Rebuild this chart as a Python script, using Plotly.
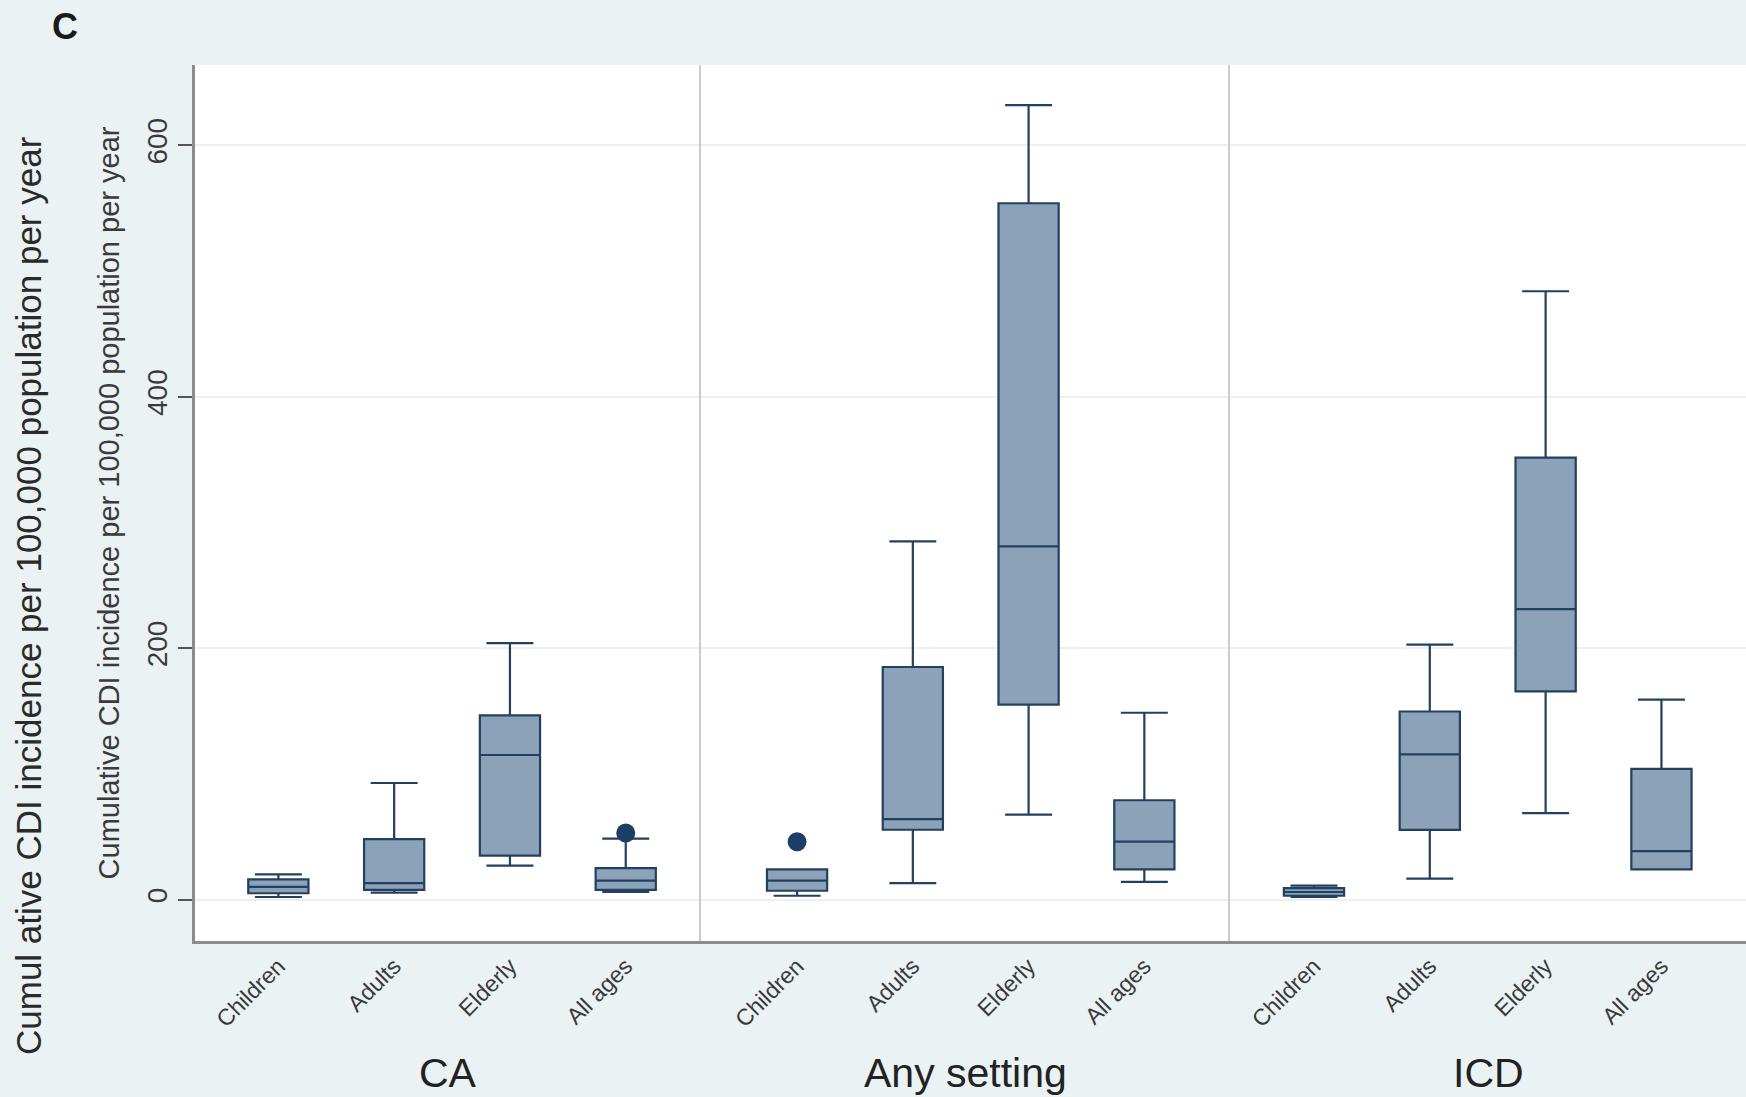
import plotly.graph_objects as go

categories = ["Children", "Adults", "Elderly", "All ages"]
panels = ["CA", "Any setting", "ICD"]

# Box statistics per panel (lower whisker, Q1, median, Q3, upper whisker)
ca_lower = [2, 5.5, 27, 6]
ca_q1 = [5, 7.7, 35, 7.7]
ca_median = [10, 13, 115, 15]
ca_q3 = [16, 48, 146.5, 25]
ca_upper = [20, 92.7, 204, 48.5]

any_lower = [3, 13, 67.5, 14]
any_q1 = [7, 55.5, 155, 24]
any_median = [15, 64, 281, 46]
any_q3 = [24, 185, 554, 79]
any_upper = [24, 285, 632, 148.6]

icd_lower = [2, 16.6, 68.7, 24]
icd_q1 = [3, 55.4, 165.6, 24]
icd_median = [6, 115.5, 231, 38.5]
icd_q3 = [9, 149.6, 351.6, 104]
icd_upper = [11, 202.8, 484, 159]

# Outliers
ca_out_cat = ["All ages"]
ca_out_val = [53]
any_out_cat = ["Children"]
any_out_val = [46]
icd_out_cat = []
icd_out_val = []

y_ticks = [0, 200, 400, 600]
y_tick_labels = ["0", "200", "400", "600"]

FONT = "Liberation Sans, Arial, sans-serif"
BOX_FILL = "#8ca2b9"
BOX_LINE = "#22405f"
BG = "#eaf2f4"

fig = go.Figure()

stats = [
    (ca_lower, ca_q1, ca_median, ca_q3, ca_upper, ca_out_cat, ca_out_val),
    (any_lower, any_q1, any_median, any_q3, any_upper, any_out_cat, any_out_val),
    (icd_lower, icd_q1, icd_median, icd_q3, icd_upper, icd_out_cat, icd_out_val),
]

axis_ids = ["", "2", "3"]
for i, (lo, q1, med, q3, up, oc, ov) in enumerate(stats):
    xa = "x" + axis_ids[i]
    ya = "y" + axis_ids[i]
    fig.add_trace(go.Box(
        x=categories, lowerfence=lo, q1=q1, median=med, q3=q3, upperfence=up,
        xaxis=xa, yaxis=ya, width=0.52, whiskerwidth=0.78,
        fillcolor=BOX_FILL, line=dict(color=BOX_LINE, width=2.2),
        boxpoints=False, showlegend=False, name=panels[i],
    ))
    if oc:
        fig.add_trace(go.Scatter(
            x=oc, y=ov, xaxis=xa, yaxis=ya, mode="markers",
            marker=dict(color="#1d3f66", size=19), showlegend=False,
        ))

# Panel geometry (pixels of the 1746-wide page, plot area 195..1746)
plot_left, plot_right = 195, 1746
bounds = [195, 701, 1230, 1746]
pw = plot_right - plot_left
domains = [[(bounds[k] - plot_left) / pw, (bounds[k + 1] - plot_left) / pw] for k in range(3)]
ranges = [[-0.72, 3.65], [-0.83, 3.74], [-0.725, 3.73]]

yrange = [-33, 664]

for i in range(3):
    xkey = "xaxis" + axis_ids[i]
    ykey = "yaxis" + axis_ids[i]
    fig.layout[xkey] = dict(
        domain=domains[i], range=ranges[i], type="category",
        categoryorder="array", categoryarray=categories,
        showline=True, linecolor="#8c8c8c", linewidth=2.5,
        showgrid=False, zeroline=False, ticks="", tickangle=-45,
        tickfont=dict(family=FONT, size=23, color="#3a3a3a"),
        anchor="y" + axis_ids[i], fixedrange=True,
    )
    ydict = dict(
        range=yrange, showgrid=True, gridcolor="#efefef", gridwidth=1.5,
        zeroline=False, anchor="x" + axis_ids[i], domain=[0, 1],
        tickvals=y_ticks, ticktext=y_tick_labels, fixedrange=True,
    )
    if i == 0:
        ydict.update(
            showline=True, linecolor="#8c8c8c", linewidth=2.5,
            ticks="outside", ticklen=14, tickwidth=2, tickcolor="#555555",
            tickangle=-90, tickfont=dict(family=FONT, size=28, color="#3a3a3a"),
            title=dict(text="Cumulative CDI incidence per 100,000 population per year",
                       font=dict(family=FONT, size=29, color="#3a3a3a"), standoff=14),
        )
    else:
        ydict.update(
            showline=True, linecolor="#cccccc", linewidth=1.5,
            showticklabels=False, ticks="", matches="y",
        )
    fig.layout[ykey] = ydict

annotations = []
for i, name in enumerate(panels):
    cx = (domains[i][0] + domains[i][1]) / 2
    annotations.append(dict(
        text=name, x=cx, y=(941 - 1073) / 876, xref="paper", yref="paper",
        showarrow=False, xanchor="center", yanchor="middle",
        font=dict(family=FONT, size=41, color="#222222"),
    ))
annotations.append(dict(
    text="Cumul ative CDI incidence per 100,000 population per year",
    x=(28 - 195) / 1551, y=(941 - 596) / 876, xref="paper", yref="paper",
    textangle=-90, showarrow=False, xanchor="center", yanchor="middle",
    font=dict(family=FONT, size=35, color="#2a2a2a"),
))
annotations.append(dict(
    text="<b>C</b>", x=(65 - 195) / 1551, y=(941 - 27) / 876, xref="paper", yref="paper",
    showarrow=False, xanchor="center", yanchor="middle",
    font=dict(family=FONT, size=36, color="#1a1a1a"),
))

fig.update_layout(
    width=1746, height=1097,
    margin=dict(l=195, r=0, t=65, b=156),
    paper_bgcolor=BG, plot_bgcolor="white",
    annotations=annotations,
    font=dict(family=FONT),
)

fig.write_html(
    "out.html",
    config={"displayModeBar": False},
    post_script="document.body.style.margin='0';document.body.style.padding='0';",
)
